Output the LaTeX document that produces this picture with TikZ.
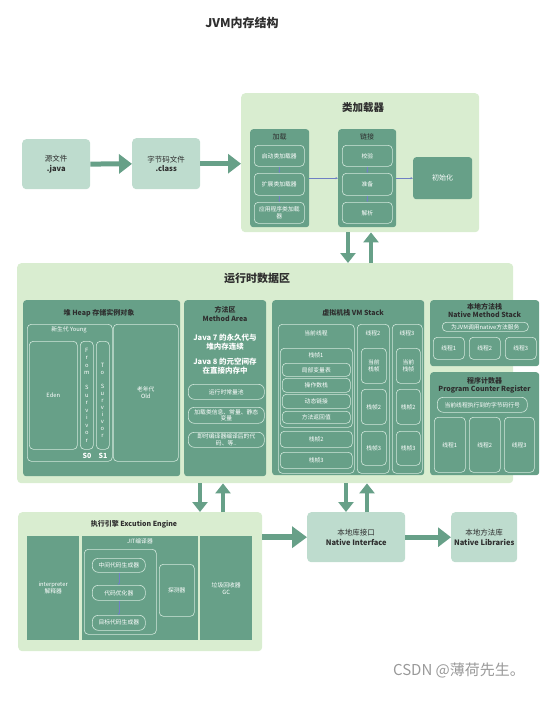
\documentclass[tikz,border=0pt]{standalone}
\usepackage{fontspec}
\setmainfont{Noto Sans CJK SC}
\usetikzlibrary{arrows.meta}
\definecolor{bg}{HTML}{D9EDD0}
\definecolor{dk}{HTML}{67A088}
\definecolor{pl}{HTML}{BEDCCE}
\definecolor{ln}{HTML}{D2E8DC}
\definecolor{bl}{HTML}{6F80C4}
\definecolor{tx}{HTML}{2E2E2E}

\begin{document}
\begin{tikzpicture}[x=1pt, y=-1pt,
        sz/.style 2 args={minimum width=#1pt, minimum height=#2pt},
        box/.style={anchor=north west, inner sep=0pt, align=center},
        outer/.style={box, fill=bg, rounded corners=4pt},
        dark/.style={box, fill=dk, rounded corners=3pt},
        pale/.style={box, fill=pl, rounded corners=4pt, text=tx, font=\fontsize{7.5}{9.5}\selectfont},
        cell/.style={box, draw=ln, line width=0.6pt, rounded corners=4pt, text=white, font=\fontsize{5.8}{6.8}\selectfont},
        hd/.style={text=tx, font=\bfseries\fontsize{7}{8.5}\selectfont, align=center, inner sep=0pt},
        lb/.style={text=white, font=\fontsize{5.8}{6.8}\selectfont, align=center, inner sep=0pt},
        big/.style={text=tx, font=\bfseries\fontsize{11}{13}\selectfont, inner sep=0pt},
        fat/.style={draw=dk, line width=5pt, -{Triangle[length=13pt, width=19pt]}},
        dup/.style={draw=dk, line width=4pt, -{Triangle[length=10pt, width=15pt]}},
        sm/.style={draw=bl, line width=0.4pt, -{Stealth[length=2.5pt, width=2pt]}}
    ]
        \useasboundingbox (0,0) rectangle (553,707);
        \node[big, font=\bfseries\fontsize{12}{14}\selectfont] (tl) at (242,23) {JVM内存结构};

        \node[pale, sz={68}{50}] (src) at (22,139) {源文件\\\textbf{.java}};
        \node[pale, sz={68}{51}] (cls) at (132,138) {字节码文件\\\textbf{.class}};
        \node[outer, sz={238}{139}] (ld) at (241,93) {};
        \node[big, font=\bfseries\fontsize{10.5}{12}\selectfont] (ldt) at (363,108) {类加载器};
        \draw[fat] (src) -- (cls);
        \draw[fat] (cls) -- (cls -| ld.west);

        \node[dark, sz={59}{98}] (load) at (250,129) {};
        \node[hd, font=\fontsize{7}{8}\selectfont] (loadt) at (279.5,137) {加载};
        \node[cell, sz={50}{21}] (c1) at (254,145) {启动类加载器};
        \node[cell, sz={50}{22}] (c2) at (254,173) {扩展类加载器};
        \node[cell, sz={50}{21}] (c3) at (254,202) {应用程序类加载\\器};
        \node[dark, sz={58}{98}] (link) at (338,129) {};
        \node[hd, font=\fontsize{7}{8}\selectfont] (linkt) at (367,137) {链接};
        \node[cell, sz={50}{21}] (v1) at (342,145) {校验};
        \node[cell, sz={50}{22}] (v2) at (342,173) {准备};
        \node[cell, sz={50}{21}] (v3) at (342,202) {解析};
        \node[dark, sz={59}{42}, text=white, font=\fontsize{7}{8}\selectfont] (init) at (413,157) {初始化};
        \draw[sm] (c1) -- (c2);
        \draw[sm] (c2) -- (c3);
        \draw[sm] (v1) -- (v2);
        \draw[sm] (v2) -- (v3);
        \draw[sm] (load) -- (link);
        \draw[sm] (link) -- (init);

        \node[outer, sz={496}{220}] (rt) at (17,263) {};
        \node[big] (rtt) at (257,278) {运行时数据区};
        \draw[dup] (ld.south -| 348,0) -- (rt.north -| 348,0);
        \draw[dup] (rt.north -| 371,0) -- (ld.south -| 371,0);

        \node[dark, sz={157}{176}] (heap) at (23,300) {};
        \node[hd] (heapt) at (99,313) {堆 Heap 存储实例对象};
        \node[cell, sz={85}{137}] (yg) at (27,324) {};
        \node[lb] (ygt) at (69,330) {新生代 Young};
        \node[cell, sz={48}{108}] (eden) at (29,341) {Eden};
        \node[cell, sz={13}{108}] (s0) at (80,341) {};
        \node[cell, sz={13}{108}] (s1) at (96,341) {};
        \node[lb, font=\fontsize{5.8}{7.5}\selectfont] (s0t) at (s0) {F\\r\\o\\m\\~\\S\\u\\r\\v\\i\\v\\o\\r};
        \node[lb, font=\fontsize{5.8}{7}\selectfont] (s1t) at (102.5,400) {T\\o\\~\\S\\u\\r\\v\\i\\v\\o\\r};
        \node[lb, font=\bfseries\fontsize{7}{8}\selectfont] (s0l) at (87,456) {S0};
        \node[lb, font=\bfseries\fontsize{7}{8}\selectfont] (s1l) at (103,456) {S1};
        \node[cell, sz={65}{137}] (old) at (113,324) {老年代\\Old};

        \node[dark, sz={82}{176}] (ma) at (184,300) {};
        \node[hd] (mat) at (225,314) {方法区\\Method Area};
        \node[lb, font=\bfseries\fontsize{7.5}{9}\selectfont] (j7) at (225,342.5) {Java 7 的永久代与\\堆内存连续};
        \node[lb, font=\bfseries\fontsize{7.5}{9}\selectfont] (j8) at (225,366.5) {Java 8 的元空间存\\在直接内存中};
        \node[cell, sz={76}{15}, rounded corners=6pt] (m1) at (188,384) {运行时常量池};
        \node[cell, sz={76}{16}, rounded corners=6pt] (m2) at (188,407) {加载类信息、常量、静态\\变量};
        \node[cell, sz={76}{15}, rounded corners=6pt] (m3) at (188,432) {即时编译器编译后的代\\码、等..};

        \node[dark, sz={152}{175}] (vm) at (272,300) {};
        \node[hd] (vmt) at (353,313) {虚拟机栈 VM Stack};
        \node[cell, sz={76}{149}] (t1) at (278,324) {};
        \node[lb] (t1t) at (316,333) {当前线程};
        \node[cell, sz={72}{79}] (f1) at (280,348) {};
        \node[lb] (f1t) at (316,355) {栈帧1};
        \node[cell, sz={68}{13}] (l1) at (282,363) {局部变量表};
        \node[cell, sz={68}{14}] (l2) at (282,378) {操作数栈};
        \node[cell, sz={68}{14}] (l3) at (282,394) {动态链接};
        \node[cell, sz={68}{12}] (l4) at (282,411) {方法返回值};
        \node[cell, sz={72}{16}] (f2) at (280,431) {栈帧2};
        \node[cell, sz={72}{16}] (f3) at (280,452) {栈帧3};
        \node[cell, sz={32}{149}] (t2) at (357,324) {};
        \node[lb] (t2t) at (373,333) {线程2};
        \node[cell, sz={25}{35}] (t2a) at (361,348) {当前\\栈帧};
        \node[cell, sz={25}{35}] (t2b) at (361,389) {栈帧2};
        \node[cell, sz={25}{34}] (t2c) at (361,431) {栈帧3};
        \node[cell, sz={30}{149}] (t3) at (392,324) {};
        \node[lb] (t3t) at (407,333) {线程3};
        \node[cell, sz={24}{35}] (t3a) at (396,348) {当前\\栈帧};
        \node[cell, sz={24}{35}] (t3b) at (396,389) {栈帧2};
        \node[cell, sz={24}{34}] (t3c) at (396,431) {栈帧3};

        \node[dark, sz={109}{66}] (ns) at (430,300) {};
        \node[hd] (nst) at (484.5,310.5) {本地方法栈\\Native Method Stack};
        \node[cell, sz={86}{9}] (nsl) at (442,322) {为JVM调用native方法服务};
        \node[cell, sz={31}{22}] (n1) at (433,337) {线程1};
        \node[cell, sz={31}{22}] (n2) at (469,337) {线程2};
        \node[cell, sz={31}{22}] (n3) at (505,337) {线程3};

        \node[dark, sz={109}{103}] (pc) at (430,372) {};
        \node[hd] (pct) at (484.5,385.5) {程序计数器\\Program Counter Register};
        \node[cell, sz={90}{15}, rounded corners=6pt] (pcl) at (437,397) {当前线程执行到的字节码行号};
        \node[cell, sz={31}{55}] (p1) at (434,417) {线程1};
        \node[cell, sz={31}{55}] (p2) at (469,417) {线程2};
        \node[cell, sz={30}{55}] (p3) at (504,417) {线程3};

        \node[outer, sz={244}{139}] (ee) at (18,512) {};
        \node[hd] (eet) at (134,524) {执行引擎 Excution Engine};
        \node[pale, sz={98}{50}] (ni) at (307,512) {本地库接口\\\textbf{Native Interface}};
        \node[pale, sz={66}{50}] (nl) at (451,512) {本地方法库\\\textbf{Native Libraries}};
        \draw[dup] (rt.south -| 200,0) -- (ee.north -| 200,0);
        \draw[dup] (ee.north -| 223,0) -- (rt.south -| 223,0);
        \draw[dup] (rt.south -| 346,0) -- (ni.north -| 346,0);
        \draw[dup] (ni.north -| 367,0) -- (rt.south -| 367,0);
        \draw[fat, line width=6pt, -{Triangle[length=15pt, width=21pt]}] (ee.east |- ni.west) -- (ni.west);
        \draw[fat] (ni) -- (nl);

        \node[dark, sz={52}{104}, rounded corners=0pt, text=white, font=\fontsize{5.8}{6.8}\selectfont] (ip) at (27,536) {interpreter\\解释器};
        \node[dark, sz={116}{104}, rounded corners=0pt] (jit) at (82,536) {};
        \node[lb] (jitt) at (140,541) {JIT编译器};
        \node[cell, sz={72}{85}] (jin) at (84,549) {};
        \node[cell, sz={53}{14}, rounded corners=6pt] (g1) at (92,558) {中间代码生成器};
        \node[cell, sz={53}{15}, rounded corners=6pt] (g2) at (92,585) {代码优化器};
        \node[cell, sz={53}{15}, rounded corners=6pt] (g3) at (92,615) {目标代码生成器};
        \node[cell, sz={35}{52}] (pr) at (159,564) {探测器};
        \node[dark, sz={52}{104}, rounded corners=0pt, text=white, font=\fontsize{5.8}{6.8}\selectfont] (gc) at (200,536) {垃圾回收器\\GC};
        \draw[sm] (g1) -- (g2);
        \draw[sm] (g2) -- (g3);

        \node[text=black!40, font=\fontsize{15}{17}\selectfont, inner sep=0pt] (wm) at (459,670) {CSDN @薄荷先生。};
    \end{tikzpicture}
\end{document}
